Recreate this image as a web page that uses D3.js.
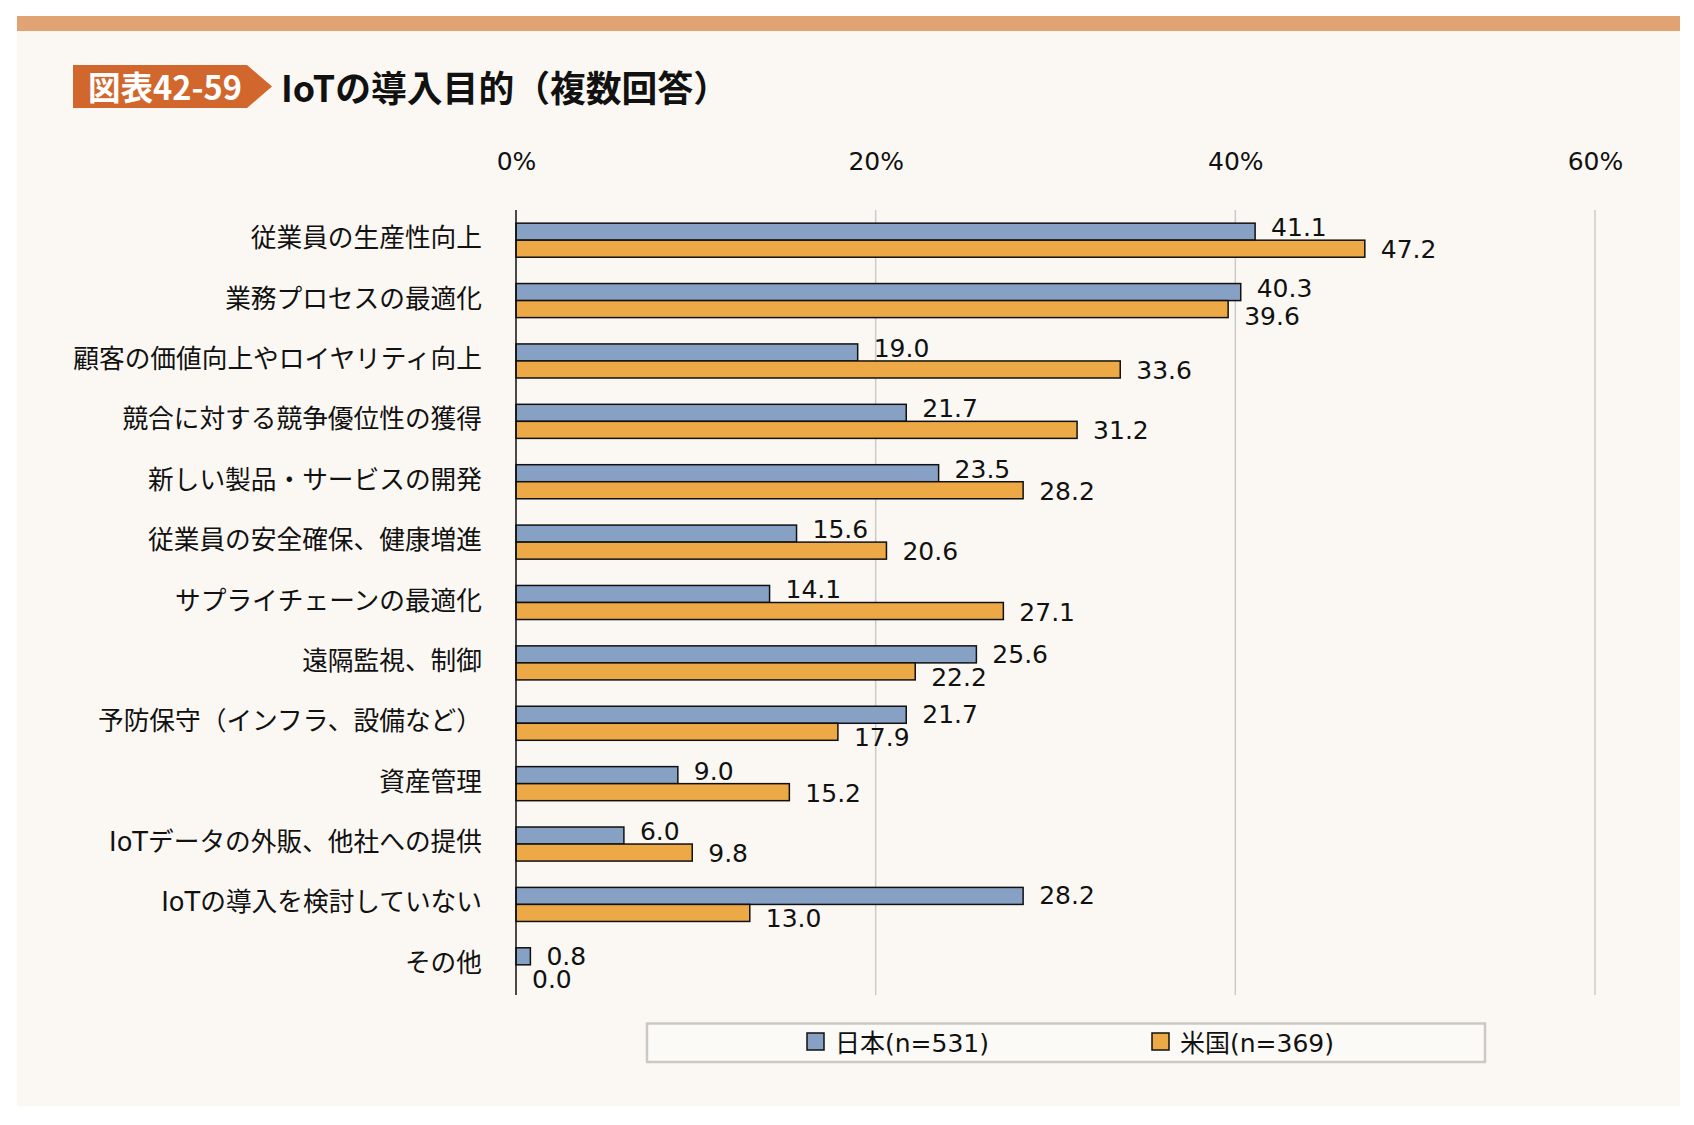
<!DOCTYPE html>
<html><head><meta charset="utf-8">
<script src="https://cdn.jsdelivr.net/npm/d3@7"></script>
<style>
html,body{margin:0;padding:0;background:#ffffff;}
svg{display:block;}
</style></head>
<body>
<svg id="chart" width="1694" height="1125"></svg>
<script>
const categories = [
  "従業員の生産性向上",
  "業務プロセスの最適化",
  "顧客の価値向上やロイヤリティ向上",
  "競合に対する競争優位性の獲得",
  "新しい製品・サービスの開発",
  "従業員の安全確保、健康増進",
  "サプライチェーンの最適化",
  "遠隔監視、制御",
  "予防保守（インフラ、設備など）",
  "資産管理",
  "IoTデータの外販、他社への提供",
  "IoTの導入を検討していない",
  "その他"
];
const japan = [41.1, 40.3, 19.0, 21.7, 23.5, 15.6, 14.1, 25.6, 21.7, 9.0, 6.0, 28.2, 0.8];
const usa   = [47.2, 39.6, 33.6, 31.2, 28.2, 20.6, 27.1, 22.2, 17.9, 15.2, 9.8, 13.0, 0.0];
const seriesNames = ["日本(n=531)", "米国(n=369)"];
const seriesColors = ["#87A1C4", "#EDA945"];
const xTicks = [0, 20, 40, 60];
const badgeText = "図表42-59";
const titleText = "IoTの導入目的（複数回答）";

const svg = d3.select("#chart");
const latin = "'DejaVu Sans','Noto Sans CJK JP',sans-serif";
const jp = "'Noto Sans CJK JP',sans-serif";

// panel
svg.append("rect").attr("x",17).attr("y",16).attr("width",1663).attr("height",1090).attr("fill","#FBF8F3");
svg.append("rect").attr("x",17).attr("y",16).attr("width",1663).attr("height",15).attr("fill","#E2A373");

// badge
svg.append("path").attr("d","M73,65 L247,65 L272,86.5 L247,108 L73,108 Z").attr("fill","#D2672D");
svg.append("text").attr("x",88).attr("y",100).attr("font-family",jp).attr("font-weight",700)
  .attr("font-size",33).attr("fill","#fff").attr("textLength",154).attr("lengthAdjust","spacingAndGlyphs").text(badgeText);
svg.append("text").attr("x",281).attr("y",102).attr("font-family",jp).attr("font-weight",700)
  .attr("font-size",36).attr("fill","#111").attr("textLength",448).attr("lengthAdjust","spacingAndGlyphs").text(titleText);

// scales
const x = d3.scaleLinear().domain([0,60]).range([516,1595]);
const y0 = d3.scaleBand().domain(categories).range([210,995]).paddingInner(0.436).paddingOuter(0.218);
const y1 = d3.scaleBand().domain([0,1]).range([0,y0.bandwidth()]);

// gridlines
svg.append("g").selectAll("line").data(xTicks.filter(t=>t>0)).join("line")
  .attr("x1",d=>x(d)).attr("x2",d=>x(d)).attr("y1",210).attr("y2",995)
  .attr("stroke","#CBCBCB").attr("stroke-width",1.5);

// top axis labels
const axis = d3.axisTop(x).tickValues(xTicks).tickFormat(d=>d+"%").tickSize(0).tickPadding(0);
const ag = svg.append("g").attr("transform","translate(0,170)").call(axis);
ag.select(".domain").remove();
ag.selectAll("text").attr("font-family",latin).attr("font-size",25).attr("fill","#111").attr("dy",0);

// category labels
svg.append("g").selectAll("text").data(categories).join("text")
  .attr("x",482).attr("y",d=>y0(d)+y0.bandwidth()/2-2).attr("text-anchor","end")
  .attr("dominant-baseline","central").attr("font-family",latin).attr("font-size",25.7).attr("fill","#111")
  .text(d=>d);

// bars
const rows = categories.map((c,i)=>({c, vals:[japan[i], usa[i]]}));
const g = svg.append("g");
rows.forEach(r=>{
  const close = Math.abs(x(r.vals[0]) - x(r.vals[1])) < 60 && Math.min(r.vals[0], r.vals[1]) > 0;
  r.vals.forEach((v,s)=>{
    g.append("rect").attr("x",x(0)).attr("y",y0(r.c)+y1(s)).attr("width",Math.max(x(v)-x(0),0))
      .attr("height",y1.bandwidth()).attr("fill",seriesColors[s]).attr("stroke","#111").attr("stroke-width",1.5);
    let dy = 0;
    if (s===0 && (r.vals[1] > r.vals[0] || close)) dy = -4;
    if (s===1) dy = (r.vals[0] >= r.vals[1]) ? (close ? 7 : 6) : 1;
    g.append("text").attr("x",x(v)+16).attr("y",y0(r.c)+y1(s)+y1.bandwidth()/2+dy)
      .attr("dominant-baseline","central").attr("font-family",latin).attr("font-size",25).attr("fill","#111")
      .text(v.toFixed(1));
  });
});

// axis line
svg.append("line").attr("x1",x(0)).attr("x2",x(0)).attr("y1",210).attr("y2",995).attr("stroke","#111").attr("stroke-width",1.5);

// legend
svg.append("rect").attr("x",647).attr("y",1023.5).attr("width",838).attr("height",38.5)
  .attr("fill","#FCFAF7").attr("stroke","#CCC8C4").attr("stroke-width",2.5);
const legX = [807, 1152];
seriesNames.forEach((n,i)=>{
  svg.append("rect").attr("x",legX[i]).attr("y",1033).attr("width",17).attr("height",17)
    .attr("fill",seriesColors[i]).attr("stroke","#111").attr("stroke-width",1.5);
  svg.append("text").attr("x",legX[i]+28).attr("y",1043).attr("dominant-baseline","central")
    .attr("font-family",latin).attr("font-size",25).attr("fill","#111").text(n);
});
</script>
</body></html>
